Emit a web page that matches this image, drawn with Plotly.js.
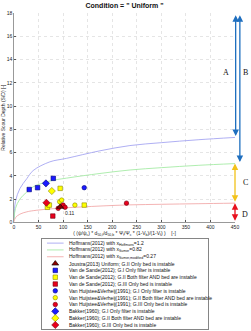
<!DOCTYPE html>
<html>
<head>
<meta charset="utf-8">
<script src="https://cdn.plot.ly/plotly-3.0.1.min.js"></script>
<style>
  html, body { margin: 0; padding: 0; background: #fff; }
  #chart { width: 251px; height: 331px; }
</style>
</head>
<body>
<div id="chart"></div>
<script>
// Hoffmans (2012) design curves, sampled along the abscissa
const curveX      = [0, 3, 12, 26, 39, 73, 107, 175, 236, 300, 375, 450];
const hoffmans12  = [0.3, 1.8, 2.9, 3.75, 4.45, 5.2, 5.5, 6.15, 6.6, 6.85, 7.1, 7.3];
const sumer082    = [0.2, 1.2, 2.0, 2.6, 3.05, 3.55, 3.8, 4.2, 4.5, 4.7, 4.9, 5.05];
const sumerMod027 = [0.05, 0.4, 0.7, 0.9, 1.0, 1.15, 1.25, 1.4, 1.5, 1.55, 1.6, 1.65];

// Measurements
const joustraX = [94];          const joustraY = [1.33];   const joustraTag = ['0.11'];
const vdsG1x = [31, 48, 80];     const vdsG1y = [2.82, 2.98, 3.78];
const vdsG2x = [68, 72, 94, 143]; const vdsG2y = [1.29, 1.48, 2.92, 1.48];
const vdsG3x = [79];             const vdsG3y = [0.54];
const vhvG1x = [143];            const vhvG1y = [2.98];
const vhvG2x = [93, 97, 124];    const vhvG2y = [1.77, 1.91, 1.48];
const vhvG3x = [90, 100, 104, 229]; const vhvG3y = [1.2, 1.48, 1.29, 1.65];
const bakG1x = [65];             const bakG1y = [3.35];
const bakG2x = [77];             const bakG2y = [2.69];
const bakG3x = [66];             const bakG3y = [1.68];

// Zones A-D marked with double arrows at the right-hand edge (paper x)
const zoneTop = 17.8;
const zoneNames = ['A', 'B', 'C', 'D'];
const zoneArrowPaperX = [1.003, 1.022, 1.0, 1.0];
const zoneLabelPos = [[0.98, 12.9], [1.07, 12.9], [1.07, 3.4], [1.07, 0.7]];

const xTicks = [0, 50, 100, 150, 200, 250, 300, 350, 400, 450];
const yTicks = [0, 2, 4, 6, 8, 10, 12, 14, 16, 18];

const legendLabels = [
  'Hoffmans(2012) with x<sub>Hoffmans</sub>=1.2',
  'Hoffmans(2012) with x<sub>Sumer</sub>=0.82',
  'Hoffmans(2012) with x<sub>Sumer,modified</sub>=0.27',
  'Joustra(2013) Uniform; G.II Only bed is instable',
  'Van de Sande(2012); G.I Only filter is instable',
  'Van de Sande(2012); G.II Both filter AND bed are instable',
  'Van de Sande(2012); G.III Only bed is instable',
  'Van Huijstee&amp;Verheij(1991); G.I Only filter is instable',
  'Van Huijstee&amp;Verheij(1991); G.II Both filter AND bed are instable',
  'Van Huijstee&amp;Verheij(1991); G.III Only bed is instable',
  'Bakker(1960); G.I Only filter is instable',
  'Bakker(1960); G.II Both filter AND bed are instable',
  'Bakker(1960); G.III Only bed is instable'
];

const BLUE = '#1a1aff', BLUE_E = '#00007a';
const YEL = '#ffff00', YEL_E = '#8a8a00';
const RED = '#e8001c', RED_E = '#700010';
const LINE_BLUE = '#9a9af0', LINE_GREEN = '#9ae89a', LINE_RED = '#f0a0a0';
const ARROW_BLUE = '#1f6fbf', ARROW_GOLD = '#f2c21a', ARROW_RED = '#e8101c';

const styles = [
  {kind: 'line', color: LINE_BLUE},
  {kind: 'line', color: LINE_GREEN},
  {kind: 'line', color: LINE_RED},
  {kind: 'mk', symbol: 'triangle-up', color: '#8b0000', edge: '#000', size: 6},
  {kind: 'mk', symbol: 'square', color: BLUE, edge: BLUE_E, size: 4.5},
  {kind: 'mk', symbol: 'square', color: YEL, edge: YEL_E, size: 4.5},
  {kind: 'mk', symbol: 'square', color: RED, edge: RED_E, size: 4.5},
  {kind: 'mk', symbol: 'circle', color: BLUE, edge: BLUE_E, size: 4.5},
  {kind: 'mk', symbol: 'circle', color: YEL, edge: YEL_E, size: 4.5},
  {kind: 'mk', symbol: 'circle', color: RED, edge: RED_E, size: 4.5},
  {kind: 'mk', symbol: 'diamond', color: BLUE, edge: BLUE_E, size: 5.5},
  {kind: 'mk', symbol: 'diamond', color: YEL, edge: YEL_E, size: 5.5},
  {kind: 'mk', symbol: 'diamond', color: RED, edge: RED_E, size: 5.5}
];

const FONT = 'Liberation Sans, Arial, sans-serif';

function curve(y, color) {
  return {x: curveX, y: y, mode: 'lines', line: {color: color, width: 0.8, shape: 'spline'},
          hoverinfo: 'skip', showlegend: false};
}
function pts(x, y, st) {
  return {x: x, y: y, mode: 'markers', showlegend: false, hoverinfo: 'skip', cliponaxis: false,
          marker: {symbol: st.symbol, size: st.size, color: st.color, line: {color: st.edge, width: 0.6}}};
}

const traces = [
  curve(hoffmans12, LINE_BLUE),
  curve(sumer082, LINE_GREEN),
  curve(sumerMod027, LINE_RED),
  pts(vdsG2x, vdsG2y, styles[5]),
  pts(vhvG2x, vhvG2y, styles[8]),
  pts(bakG2x, bakG2y, styles[11]),
  pts(vdsG1x, vdsG1y, styles[4]),
  pts(vhvG1x, vhvG1y, styles[7]),
  pts(bakG1x, bakG1y, styles[10]),
  pts(vdsG3x, vdsG3y, styles[6]),
  pts(vhvG3x, vhvG3y, styles[9]),
  pts(bakG3x, bakG3y, styles[12]),
  Object.assign(pts(joustraX, joustraY, styles[3]), {
    mode: 'markers+text', text: joustraTag, textposition: 'bottom right',
    textfont: {family: FONT, size: 5, color: '#222'}
  })
];

// Legend panel on its own axes
const rows = legendLabels.map((_, i) => i + 1);
const annotations = [];
styles.forEach((st, i) => {
  const r = rows[i];
  if (st.kind === 'line') {
    traces.push({x: [0.03, 0.13], y: [r, r], xaxis: 'x2', yaxis: 'y2', mode: 'lines',
                 line: {color: st.color, width: 0.8}, showlegend: false, hoverinfo: 'skip'});
  } else {
    traces.push({x: [0.08], y: [r], xaxis: 'x2', yaxis: 'y2', mode: 'markers',
                 marker: {symbol: st.symbol, size: st.size, color: st.color, line: {color: st.edge, width: 0.6}},
                 showlegend: false, hoverinfo: 'skip'});
  }
  annotations.push({xref: 'x2', yref: 'y2', x: 0.15, y: r, text: legendLabels[i], showarrow: false,
                    xanchor: 'left', yanchor: 'middle',
                    font: {family: FONT, size: 5, color: '#111'}});
});

// Zone extents: top of chart -> curve ends, curve -> curve, curve -> 0
const last = a => a[a.length - 1];
const zoneSpans = [
  [zoneTop, last(hoffmans12)],
  [zoneTop, last(sumer082)],
  [last(sumer082), last(sumerMod027)],
  [last(sumerMod027), 0]
];
const zoneColors = [ARROW_BLUE, ARROW_BLUE, ARROW_GOLD, ARROW_RED];

zoneSpans.forEach((span, i) => {
  annotations.push({xref: 'paper', yref: 'y', x: zoneArrowPaperX[i], y: span[0],
                    ayref: 'y', ay: span[1], axref: 'pixel', ax: 0,
                    showarrow: true, arrowside: 'end+start', arrowhead: 2, arrowsize: 1,
                    arrowwidth: 1.3, arrowcolor: zoneColors[i], text: ''});
});
zoneNames.forEach((t, i) => {
  annotations.push({xref: 'paper', yref: 'y', x: zoneLabelPos[i][0], y: zoneLabelPos[i][1], text: t,
                    showarrow: false,
                    font: {family: 'Liberation Serif, Times New Roman, serif', size: 8, color: '#111'}});
});

const layout = {
  width: 251, height: 331,
  margin: {l: 14, r: 16, t: 13, b: 1},
  paper_bgcolor: '#fff', plot_bgcolor: '#fff',
  showlegend: false,
  font: {family: FONT, size: 5, color: '#222'},
  title: {text: '<b>Condition = " Uniform "</b>', font: {family: FONT, size: 7, color: '#111'},
          x: 0.5, xref: 'paper', y: 0.982, yref: 'container', yanchor: 'middle'},
  xaxis: {
    range: [0, 450], domain: [0, 1], tickvals: xTicks, ticktext: xTicks.map(String),
    showgrid: true, gridcolor: '#d4d4d4', griddash: 'dot', gridwidth: 0.6,
    zeroline: false, showline: true, linecolor: '#555', linewidth: 0.6,
    ticks: 'inside', ticklen: 2, tickcolor: '#555', tickfont: {size: 5, color: '#222'},
    title: {text: '( (ψ/ψ<sub>c</sub>) * d<sub>50,f</sub>/d<sub>50,b</sub> * Ψ<sub>f</sub>/Ψ<sub>c</sub> * (1-V<sub>b</sub>)/(1-V<sub>f</sub>) )    [-]',
            font: {size: 5, color: '#222'}, standoff: 2},
    automargin: false, fixedrange: true
  },
  yaxis: {
    range: [0, 18], domain: [0.3397, 1], tickvals: yTicks, ticktext: yTicks.map(String),
    showgrid: true, gridcolor: '#d4d4d4', griddash: 'dot', gridwidth: 0.6,
    zeroline: false, showline: true, linecolor: '#555', linewidth: 0.6,
    ticks: 'inside', ticklen: 2, tickcolor: '#555', tickfont: {size: 5, color: '#222'},
    title: {text: 'Relative Scour Depth (S/D) [-]', font: {size: 5, color: '#222'}, standoff: 1},
    automargin: false, fixedrange: true
  },
  xaxis2: {domain: [0.1267, 0.8778], range: [0, 1], anchor: 'y2', showgrid: false, zeroline: false,
           showticklabels: false, ticks: '', showline: true, mirror: true, linecolor: '#333', linewidth: 0.6,
           fixedrange: true},
  yaxis2: {domain: [0.003, 0.287], range: [13.6, 0.4], anchor: 'x2', showgrid: false, zeroline: false,
           showticklabels: false, ticks: '', showline: true, mirror: true, linecolor: '#333', linewidth: 0.6,
           fixedrange: true},
  annotations: annotations
};

Plotly.newPlot('chart', traces, layout, {staticPlot: true, displayModeBar: false});
</script>
</body>
</html>
